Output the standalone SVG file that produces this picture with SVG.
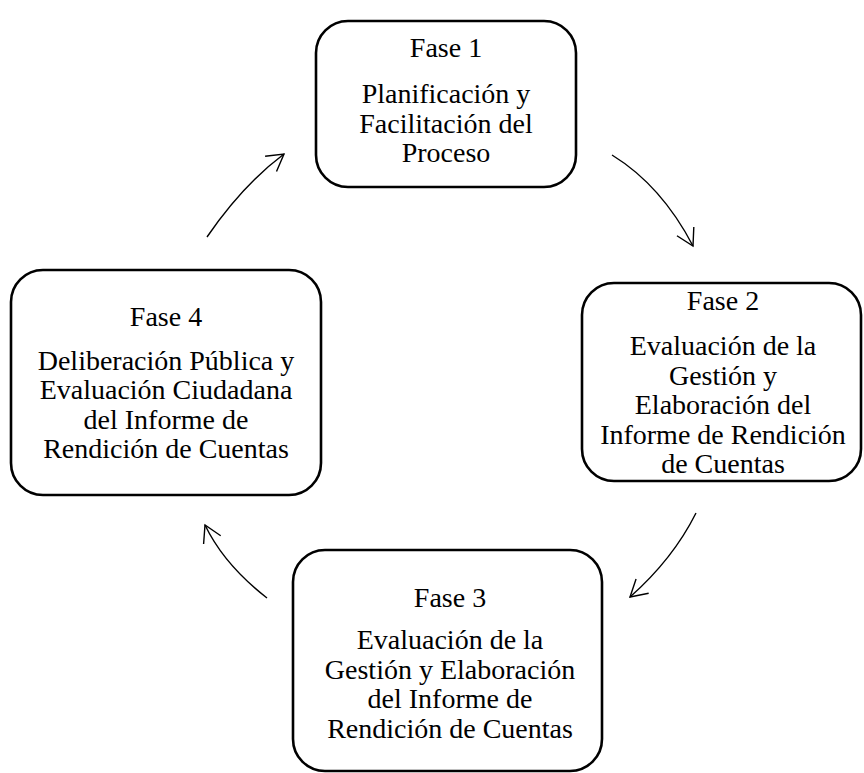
<svg xmlns="http://www.w3.org/2000/svg" width="864" height="773" viewBox="0 0 864 773">
<style>
.box{fill:#fff;stroke:#000;stroke-width:2.6}
.t{font-family:"Liberation Serif","Times New Roman",serif;font-size:28px;fill:#000;text-anchor:middle}
.c{fill:none;stroke:#000;stroke-width:1.4}
</style>
<defs>
<marker id="ah" markerUnits="userSpaceOnUse" viewBox="-20 -12 22 24" markerWidth="22" markerHeight="24" refX="0" refY="0" orient="auto">
<path d="M-16.5,-9.5 L0,0 L-16.5,9.5" fill="none" stroke="#000" stroke-width="1.4"/>
</marker>
</defs>
<rect width="864" height="773" fill="#fff"/>
<g id="connectors">
<path class="c" d="M207,237 Q242.8,184.9 284,154" marker-end="url(#ah)"/>
<path class="c" d="M612,155 Q661.5,185.5 693,246" marker-end="url(#ah)"/>
<path class="c" d="M696,513 Q673,559 630,597" marker-end="url(#ah)"/>
<path class="c" d="M267,598 Q224,564.5 205,525" marker-end="url(#ah)"/>
</g>
<g id="fase1">
<rect class="box" x="316" y="21" width="260" height="166" rx="32"/>
<text class="t" x="446" y="57">Fase 1</text>
<text class="t" x="446" y="103">Planificación y</text>
<text class="t" x="446" y="132.5">Facilitación del</text>
<text class="t" x="446" y="162">Proceso</text>
</g>
<g id="fase2">
<rect class="box" x="582" y="283" width="279" height="198" rx="32"/>
<text class="t" x="723" y="310">Fase 2</text>
<text class="t" x="723" y="355">Evaluación de la</text>
<text class="t" x="723" y="384.5">Gestión y</text>
<text class="t" x="723" y="414">Elaboración del</text>
<text class="t" x="723" y="443.5">Informe de Rendición</text>
<text class="t" x="723" y="473">de Cuentas</text>
</g>
<g id="fase3">
<rect class="box" x="293" y="550" width="309" height="221" rx="32"/>
<text class="t" x="450" y="607">Fase 3</text>
<text class="t" x="450" y="649">Evaluación de la</text>
<text class="t" x="450" y="678.5">Gestión y Elaboración</text>
<text class="t" x="450" y="708">del Informe de</text>
<text class="t" x="450" y="737.5">Rendición de Cuentas</text>
</g>
<g id="fase4">
<rect class="box" x="11" y="270" width="310" height="225" rx="32"/>
<text class="t" x="166" y="326">Fase 4</text>
<text class="t" x="166" y="369.5">Deliberación Pública y</text>
<text class="t" x="166" y="399">Evaluación Ciudadana</text>
<text class="t" x="166" y="428.5">del Informe de</text>
<text class="t" x="166" y="458">Rendición de Cuentas</text>
</g>
</svg>
